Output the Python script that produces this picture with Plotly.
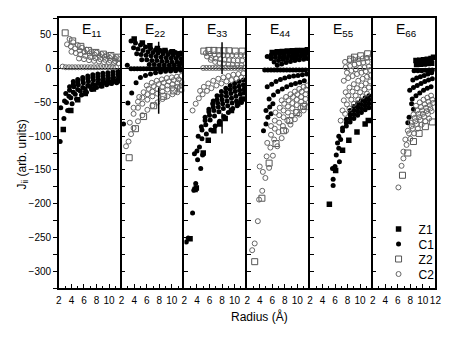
import plotly.graph_objects as go

# ---------------- data ----------------
panel_titles = ["E<sub>11</sub>", "E<sub>22</sub>", "E<sub>33</sub>",
                "E<sub>44</sub>", "E<sub>55</sub>", "E<sub>66</sub>"]
series_names = ["Z1", "C1", "Z2", "C2"]
x_ticks = [2, 4, 6, 8, 10]
x_ticks_last = [2, 4, 6, 8, 10, 12]
y_ticks = [50, 0, -50, -100, -150, -200, -250, -300]
x_title = "Radius (Å)"
y_title = "J<sub>ii</sub> (arb. units)"

# E11
e11_z1_x = [2.7, 3.9, 5.0, 6.2, 7.5, 8.8, 10.2, 11.5]
e11_z1_y = [-90, -62, -46, -37, -30, -25, -21, -18]
e11_c1_x = [2.2, 2.8, 3.4, 4.1, 4.8, 5.6, 6.4, 7.2, 8.0, 8.8, 9.6, 10.4, 11.2,
            3.2, 3.9, 4.6, 5.4, 6.2, 7.0, 7.8, 8.6, 9.4, 10.2, 11.0, 11.7,
            2.3, 2.9, 3.6, 4.3, 5.0, 5.8, 6.6, 7.4, 8.2, 9.0, 9.8, 10.6, 11.4,
            3.1, 3.7, 4.4, 5.1, 5.9, 6.7, 7.5, 8.3, 9.1, 9.9, 10.7, 11.5,
            3.7, 4.3, 5.0, 5.8, 6.6, 7.4, 8.2, 9.0, 9.8, 10.6, 11.4,
            4.3, 5.0, 5.8, 6.6, 7.4, 8.2, 9.0, 9.8, 10.6, 11.4]
e11_c1_y = [-108, -74, -62, -52, -45, -39, -35, -31, -28, -26, -24, -22, -21,
            -50, -43, -38, -33, -30, -27, -25, -23, -21, -20, -19, -18,
            -58, -48, -41, -35, -31, -28, -25, -23, -21, -19, -18, -17, -16,
            -37, -32, -27, -24, -21, -19, -17, -16, -15, -14, -13, -12,
            -27, -23, -20, -17, -15, -13, -12, -11, -10, -9, -8,
            -19, -16, -13, -11, -9, -8, -7, -6, -5, -4]
e11_z2_x = [3.0, 4.2, 5.5, 6.7, 7.9, 9.1, 10.3, 11.4]
e11_z2_y = [53, 41, 33, 27, 24, 21.5, 19.5, 17]
e11_c2_x = [3.7, 4.3, 5.0, 5.7, 6.4, 7.2, 8.0, 8.8, 9.6, 10.4, 11.2,
            3.3, 3.9, 4.6, 5.3, 6.1, 6.9, 7.7, 8.5, 9.3, 10.1, 10.9, 11.6,
            4.0, 4.7, 5.4, 6.2, 7.0, 7.8, 8.6, 9.4, 10.2, 11.0,
            5.2, 6.0, 6.8, 7.6, 8.4, 9.2, 10.0, 10.8, 11.5,
            2.6, 3.1, 3.6, 4.1, 4.6, 5.1, 5.6, 6.1, 6.6, 7.1, 7.6, 8.1, 8.6, 9.1, 9.6, 10.1, 10.6, 11.1]
e11_c2_y = [44, 39, 35, 31, 28, 25.5, 23.5, 21.5, 20, 18.5, 17,
            36, 33, 30, 27, 24.5, 22.5, 20.5, 19, 17.5, 16, 15, 14,
            25, 23, 21, 19, 17, 15.5, 14, 13, 12, 11,
            15, 14, 12.5, 11.5, 10.5, 9.5, 9, 8.5, 8,
            3, 2, 2, 2, 2, 2, 2, 2, 2, 2, 2, 2, 2, 2, 2, 2, 2, 2]

# E22
e22_z1_x = [4.0, 5.3, 6.5, 7.7, 8.9, 10.1, 11.3]
e22_z1_y = [44, 38, 34, 30, 27, 25, 22]
e22_c1_x = [3.5, 4.2, 5.0, 5.8, 6.6, 7.4, 8.2, 9.0, 9.8, 10.6, 11.4,
            3.9, 4.6, 5.4, 6.2, 7.0, 7.8, 8.6, 9.4, 10.2, 11.0,
            4.4, 5.1, 5.9, 6.7, 7.5, 8.3, 9.1, 9.9, 10.7, 11.5,
            5.2, 6.0, 6.8, 7.6, 8.4, 9.2, 10.0, 10.8, 11.5,
            6.4, 7.2, 8.0, 8.8, 9.6, 10.4, 11.2,
            2.9, 3.5, 4.0, 4.5, 5.0, 5.5, 6.0, 6.5, 7.0, 7.5, 8.0, 8.5, 9.0, 9.5, 10.0, 10.5, 11.0, 11.5,
            2.3, 3.0, 3.6, 4.3, 5.0, 5.8, 6.6, 7.4, 8.2, 9.0, 9.8, 10.6, 11.4]
e22_c1_y = [41, 38, 35, 32, 30, 28, 27, 26, 25, 24, 23,
            31, 29, 27, 25, 24, 23, 22, 21, 20, 19.5,
            22, 21, 20, 19, 18, 17, 16, 15.5, 15, 14.5,
            13, 13, 12, 12, 11, 11, 10, 10, 9,
            6, 6, 5.5, 5.5, 5, 5, 5,
            5, 0, 0, 0, 0, 0, 0, 0, 0, 0, 0, 0, 0, 0, 0, 0, 0, 0,
            -82, -51, -36, -21, -13, -10, -8, -6, -5, -4, -3.5, -3, -2.5]
e22_z2_x = [3.2, 4.2, 5.5, 7.1, 8.7, 10.3, 11.4]
e22_z2_y = [-132, -89, -71, -55, -41, -33, -30]
e22_c2_x = [2.7, 3.1, 3.5, 3.9, 4.6, 5.3, 6.1, 6.9, 7.7, 8.5, 9.3, 10.1, 10.9, 11.6,
            3.3, 3.9, 4.6, 5.3, 6.1, 6.9, 7.7, 8.5, 9.3, 10.1, 10.9, 11.6,
            3.9, 4.6, 5.3, 6.1, 6.9, 7.7, 8.5, 9.3, 10.1, 10.9, 11.6,
            4.8, 5.5, 6.3, 7.1, 7.9, 8.7, 9.5, 10.3, 11.1,
            6.0, 6.8, 7.6, 8.4, 9.2, 10.0, 10.8, 11.5]
e22_c2_y = [-115, -108, -97, -88, -78, -69, -61, -55, -50, -45, -41, -38, -35, -32,
            -80, -67, -58, -52, -46, -41, -37, -34, -31, -29, -27, -25,
            -58, -49, -43, -38, -34, -30, -27, -25, -23, -21, -20,
            -42, -35, -30, -26, -23, -21, -19, -17, -16,
            -25, -21, -18, -16, -14, -13, -12, -11]
e22_bar1_x = [7.9, 7.9]
e22_bar1_y = [40, 29]
e22_bar2_x = [7.9, 7.9]
e22_bar2_y = [-28, -67]

# E33
e33_z1_x = [2.9, 3.7, 3.9, 5.0, 5.8, 6.7, 7.6, 8.5, 9.5, 10.5, 11.4]
e33_z1_y = [-252, -179, -177, -125, -106, -92, -82, -74, -62, -52, -45]
e33_c1_x = [6.6, 7.2, 7.9, 8.6, 9.3, 10.0, 10.7, 11.4,
            5.9, 6.5, 7.2, 7.9, 8.6, 9.3, 10.0, 10.7, 11.4,
            5.3, 5.9, 6.6, 7.3, 8.0, 8.7, 9.4, 10.1, 10.8, 11.5,
            4.7, 5.3, 6.0, 6.7, 7.4, 8.1, 8.8, 9.5, 10.2, 10.9, 11.5,
            4.2, 4.8, 5.4, 6.1, 6.8, 7.5, 8.2, 8.9, 9.6, 10.3, 11.0,
            4.8, 5.5, 6.2, 6.9, 7.6, 8.3, 9.0, 9.7, 10.4, 11.1,
            3.6, 4.1, 4.9, 4.6, 3.8, 3.5, 3.3, 2.3, 2.6, 4.0, 4.4]
e33_c1_y = [-48, -40, -34, -29, -25, -22, -19, -17,
            -60, -52, -46, -40, -35, -31, -28, -26, -24,
            -72, -64, -57, -51, -46, -41, -37, -34, -32, -30,
            -86, -77, -69, -62, -57, -52, -48, -44, -41, -38, -36,
            -100, -91, -83, -76, -70, -64, -59, -55, -51, -48, -45,
            -104, -97, -91, -85, -78, -71, -65, -59, -55, -50,
            -126, -135, -128, -148, -170, -180, -214, -257, -251, -122, -116]
e33_z2_x = [5.1, 5.9, 6.7, 7.5, 8.3, 9.1, 10.1, 11.2]
e33_z2_y = [26, 27, 27, 26.5, 26.5, 26.5, 26, 26]
e33_c2_x = [5.4, 6.1, 6.8, 7.5, 8.2, 8.9, 9.6, 10.3, 11.0, 11.6,
            5.6, 6.3, 7.0, 7.7, 8.4, 9.1, 9.8, 10.5, 11.2,
            6.2, 6.9, 7.6, 8.3, 9.0, 9.7, 10.4, 11.1,
            5.0, 5.5, 6.0, 6.5, 7.0, 7.5, 8.0, 8.5, 9.0, 9.5, 10.0, 10.5, 11.0, 11.5,
            3.3, 3.8, 4.3, 4.9, 5.6, 6.3, 7.1, 7.9, 8.7, 9.5, 10.3, 11.1,
            4.5, 5.1, 5.8, 6.6, 7.4, 8.2, 9.0, 9.8, 10.6, 11.4]
e33_c2_y = [23, 22, 21, 20.5, 20, 20, 20, 20, 20, 20,
            18, 16, 15, 14, 13, 12.5, 12, 12, 12,
            13, 10, 8.5, 7.5, 6.5, 6, 5.5, 5,
            1, 1, 1, 1, 1, 1, 1, 1, 1, 1, 1, 1, 1, 1,
            -62, -52, -44, -38, -33, -29, -25, -22, -19, -17, -15, -13,
            -33, -27, -22, -18, -15, -13, -11, -9, -8, -7]
e33_bar1_x = [8.0, 8.0]
e33_bar1_y = [39, -8]
e33_bar2_x = [8.0, 8.0]
e33_bar2_y = [-66, -96]

# E44
e44_z1_x = [6.0, 6.8, 7.6, 8.4, 9.2, 10.0, 10.8, 11.6]
e44_z1_y = [24, 25, 25.5, 26, 26.5, 27, 27, 28]
e44_c1_x = [5.2, 5.8, 6.5, 7.2, 7.9, 8.6, 9.3, 10.0, 10.7, 11.4,
            5.8, 6.5, 7.2, 7.9, 8.6, 9.3, 10.0, 10.7, 11.4,
            6.3, 7.0, 7.7, 8.4, 9.1, 9.8, 10.5, 11.2,
            6.8, 7.5, 8.2, 8.9, 9.6, 10.3, 11.0, 11.6,
            4.8, 5.3, 5.8, 6.3, 6.8, 7.3, 7.8, 8.3, 8.8, 9.3, 9.8, 10.3, 10.8, 11.3,
            5.2, 5.9, 6.6, 7.3, 8.0, 8.7, 9.4, 10.1, 10.8, 11.5,
            5.5, 6.2, 6.9, 7.6, 8.3, 9.0, 9.7, 10.4, 11.1,
            5.0, 5.3, 5.8, 5.0, 4.6, 6.1, 5.6]
e44_c1_y = [18, 20, 21, 22, 22.5, 23, 23.5, 24, 24.5, 25,
            15, 16.5, 17.5, 18.5, 19.5, 20, 21, 21.5, 22,
            10, 12, 13.5, 15, 16, 17, 18, 19,
            5, 7, 9, 10.5, 12, 13, 14, 15,
            -2, -2, -2, -2, -2, -2, -2, -2, -2, -2, -2, -2, -2, -2,
            -27, -23, -19, -16, -14, -12, -11, -10, -9, -8,
            -45, -39, -34, -30, -27, -24, -22, -20, -18,
            -62, -72, -67, -82, -92, -52, -57]
e44_z2_x = [3.2, 4.35, 5.5, 6.6, 7.8, 8.8, 9.9, 11.0]
e44_z2_y = [-286, -192, -140, -111, -92, -77, -65, -56]
e44_c2_x = [2.8, 3.2, 3.7, 3.9, 4.4, 4.9, 5.5, 6.1, 6.8, 7.5, 8.2, 8.9, 9.6, 10.3, 11.0, 11.6,
            4.0, 4.5, 5.1, 5.7, 6.3, 7.0, 7.7, 8.4, 9.1, 9.8, 10.5, 11.2,
            5.2, 5.8, 6.4, 7.1, 7.8, 8.5, 9.2, 9.9, 10.6, 11.3,
            5.8, 6.4, 7.1, 7.8, 8.5, 9.2, 9.9, 10.6, 11.3,
            6.5, 7.2, 7.9, 8.6, 9.3, 10.0, 10.7, 11.4,
            7.5, 8.2, 8.9, 9.6, 10.3, 11.0, 11.6]
e44_c2_y = [-269, -259, -226, -194, -181, -162, -147, -129, -115, -103, -92, -83, -75, -68, -62, -57,
            -145, -153, -130, -117, -105, -94, -85, -77, -70, -64, -58, -53,
            -110, -98, -89, -80, -72, -65, -59, -54, -49, -45,
            -85, -77, -69, -62, -56, -51, -46, -42, -38,
            -65, -58, -52, -47, -42, -38, -34, -31,
            -47, -42, -38, -34, -30, -27, -25]

# E55
e55_z1_x = [5.1, 6.1, 7.2, 8.2, 9.5, 10.8, 11.3]
e55_z1_y = [-201, -151, -121, -106, -94, -82, -77]
e55_c1_x = [8.4, 9.0, 9.6, 10.2, 10.8, 11.4,
            7.8, 8.4, 9.0, 9.6, 10.2, 10.8, 11.4,
            7.2, 7.8, 8.4, 9.0, 9.6, 10.2, 10.8, 11.4,
            6.6, 7.2, 7.8, 8.4, 9.0, 9.6, 10.2, 10.8, 11.4,
            6.6, 6.2, 6.7, 6.0, 5.7, 5.7, 5.6, 6.4, 6.9]
e55_c1_y = [-62, -56, -51, -47, -43, -40,
            -75, -68, -62, -57, -53, -49, -46,
            -88, -80, -73, -68, -63, -59, -55, -52,
            -100, -92, -85, -79, -74, -69, -65, -61, -58,
            -118, -128, -138, -145, -164, -173, -148, -110, -105]
e55_z2_x = [8.5, 9.1, 10.1, 11.2]
e55_z2_y = [14, 17, 19, 22]
e55_c2_x = [7.6, 8.3, 9.0, 9.7, 10.4, 11.1, 11.7,
            7.7, 8.4, 9.1, 9.8, 10.5, 11.2,
            7.9, 8.6, 9.3, 10.0, 10.7, 11.4,
            7.4, 8.1, 8.8, 9.5, 10.2, 10.9, 11.6,
            7.7, 8.3, 9.0, 9.7, 10.4, 11.1, 11.7,
            7.4, 8.1, 8.8, 9.5, 10.2, 10.9, 11.6,
            7.2, 7.9, 8.6, 9.3, 10.0, 10.7, 11.4,
            6.9, 7.6, 8.3, 9.0, 9.7, 10.4, 11.1]
e55_c2_y = [10, 12, 13, 14, 15, 16, 17,
            2, 4, 6, 8, 9, 10,
            -6, -3, -1, 1, 2, 3,
            -18, -14, -11, -8, -6, -4, -2,
            -35, -28, -23, -18, -15, -12, -10,
            -47, -40, -34, -29, -25, -22, -19,
            -62, -53, -46, -40, -35, -31, -28,
            -77, -67, -59, -52, -46, -41, -37]

# E66
e66_z1_x = [8.9, 9.5, 10.1, 10.7, 11.3, 11.7, 9.0, 9.6, 10.2, 10.8, 11.4]
e66_z1_y = [12, 12.5, 13, 14, 15, 17, 6, 6.5, 7, 7.5, 8]
e66_c1_x = [8.6, 9.2, 9.8, 10.4, 11.0, 11.5,
            8.4, 9.0, 9.6, 10.2, 10.8, 11.4,
            7.9, 8.5, 9.1, 9.7, 10.3, 10.9, 11.5,
            8.3, 8.9, 9.5, 10.1, 10.7, 11.3,
            8.5, 8.2, 7.8, 7.6]
e66_c1_y = [-3, -3, -3, -2.5, -2, -2,
            -17, -14, -12, -10, -8, -6,
            -32, -28, -25, -22, -19, -17, -15,
            -45, -40, -36, -32, -29, -27,
            -60, -52, -72, -80]
e66_z2_x = [6.75, 7.6, 8.5, 9.4, 10.4, 11.5]
e66_z2_y = [-158, -125, -108, -96, -86, -79]
e66_c2_x = [8.9, 9.5, 10.1, 10.7, 11.3,
            8.5, 9.1, 9.7, 10.3, 10.9, 11.5,
            8.1, 8.7, 9.3, 9.9, 10.5, 11.1, 11.6,
            7.6, 8.2, 8.8, 9.4, 10.0, 10.6, 11.2,
            7.2, 7.8, 8.4, 9.0, 9.6, 10.2, 10.8, 11.4,
            6.9, 7.4, 8.0, 8.6, 9.2, 9.8, 10.4, 11.0,
            6.6, 6.9, 6.1]
e66_c2_y = [-55, -50, -46, -43, -40,
            -68, -62, -57, -53, -49, -46,
            -80, -73, -67, -62, -58, -54, -51,
            -92, -85, -78, -72, -67, -63, -59,
            -105, -96, -89, -82, -76, -71, -67, -63,
            -123, -113, -104, -96, -89, -83, -78, -74,
            -144, -133, -176]

# ---------------- assemble ----------------
panels = [
    [(e11_z1_x, e11_z1_y), (e11_c1_x, e11_c1_y), (e11_z2_x, e11_z2_y), (e11_c2_x, e11_c2_y)],
    [(e22_z1_x, e22_z1_y), (e22_c1_x, e22_c1_y), (e22_z2_x, e22_z2_y), (e22_c2_x, e22_c2_y)],
    [(e33_z1_x, e33_z1_y), (e33_c1_x, e33_c1_y), (e33_z2_x, e33_z2_y), (e33_c2_x, e33_c2_y)],
    [(e44_z1_x, e44_z1_y), (e44_c1_x, e44_c1_y), (e44_z2_x, e44_z2_y), (e44_c2_x, e44_c2_y)],
    [(e55_z1_x, e55_z1_y), (e55_c1_x, e55_c1_y), (e55_z2_x, e55_z2_y), (e55_c2_x, e55_c2_y)],
    [(e66_z1_x, e66_z1_y), (e66_c1_x, e66_c1_y), (e66_z2_x, e66_z2_y), (e66_c2_x, e66_c2_y)],
]
bars = {1: [(e22_bar1_x, e22_bar1_y), (e22_bar2_x, e22_bar2_y)],
        2: [(e33_bar1_x, e33_bar1_y), (e33_bar2_x, e33_bar2_y)]}

W, H = 463, 338
edges = [57, 121, 185, 249, 313, 377, 441]
top_px, bot_px = 18, 288
FONT = "Liberation Sans, Arial, sans-serif"

styles = [
    dict(symbol="square", size=5.5, color="black", line=dict(width=0)),
    dict(symbol="circle", size=5, color="black", line=dict(width=0)),
    dict(symbol="square-open", size=6, color="#555555", line=dict(width=1, color="#555555")),
    dict(symbol="circle-open", size=5, color="#666666", line=dict(width=1, color="#666666")),
]
legend_ids = ["legend", "legend2", "legend3", "legend4"]
legend_rows_px = [229, 244, 259, 274]

fig = go.Figure()
for i, panel in enumerate(panels):
    xa = "x" if i == 0 else f"x{i+1}"
    ya = "y" if i == 0 else f"y{i+1}"
    for k, (xs, ys) in enumerate(panel):
        fig.add_trace(go.Scatter(
            x=xs, y=ys, mode="markers", name=series_names[k],
            marker=styles[k], xaxis=xa, yaxis=ya,
            showlegend=(i == 0), legend=legend_ids[k],
            legendgroup=series_names[k]))
    for bx, by in bars.get(i, []):
        fig.add_trace(go.Scatter(x=bx, y=by, mode="lines", showlegend=False,
                                 line=dict(color="black", width=1.5),
                                 xaxis=xa, yaxis=ya))

layout = dict(
    width=W, height=H,
    margin=dict(l=0, r=0, t=0, b=0),
    paper_bgcolor="white", plot_bgcolor="white",
    font=dict(family=FONT, size=10, color="black"),
)
ydom = [1 - bot_px / H, 1 - top_px / H]
for i in range(6):
    xkey = "xaxis" if i == 0 else f"xaxis{i+1}"
    ykey = "yaxis" if i == 0 else f"yaxis{i+1}"
    tdir = "outside" if i == 0 else "inside"
    layout[xkey] = dict(
        domain=[edges[i] / W, edges[i + 1] / W], range=[2, 12],
        anchor="y" if i == 0 else f"y{i+1}",
        tickmode="array", tickvals=x_ticks_last if i == 5 else x_ticks,
        ticks="inside", ticklen=4, tickwidth=1, tickcolor="black", tickangle=0,
        minor=dict(dtick=1, tick0=2, ticks="inside", ticklen=2, tickwidth=1, tickcolor="black"),
        showline=True, linecolor="black", linewidth=1.5, mirror=True,
        showgrid=False, zeroline=False, tickfont=dict(size=10),
        ticklabelstandoff=2, fixedrange=True)
    layout[ykey] = dict(
        domain=ydom, range=[-325, 75],
        anchor="x" if i == 0 else f"x{i+1}",
        tickmode="array", tickvals=y_ticks, showticklabels=(i == 0),
        ticks=tdir, ticklen=4, tickwidth=1, tickcolor="black",
        minor=dict(dtick=25, tick0=0, ticks=tdir, ticklen=4, tickwidth=1, tickcolor="black"),
        showline=True, linecolor="black", linewidth=1.5, mirror=(i == 5),
        showgrid=False, zeroline=True, zerolinecolor="black", zerolinewidth=1,
        tickfont=dict(size=10), fixedrange=True)

for k, lid in enumerate(legend_ids):
    layout[lid] = dict(x=383 / W, xanchor="left", y=1 - legend_rows_px[k] / H, yanchor="middle",
                       bgcolor="rgba(0,0,0,0)", font=dict(size=12), borderwidth=0)

annotations = []
for i, t in enumerate(panel_titles):
    annotations.append(dict(text=t, x=((edges[i] + edges[i + 1]) / 2 + 2) / W, y=1 - 30 / H,
                            xref="paper", yref="paper", showarrow=False,
                            font=dict(size=14), xanchor="center", yanchor="middle"))
annotations.append(dict(text=x_title, x=262 / W, y=1 - 316 / H, xref="paper", yref="paper",
                        showarrow=False, font=dict(size=12), xanchor="center", yanchor="middle"))
annotations.append(dict(text=y_title, x=20 / W, y=1 - 155 / H, xref="paper", yref="paper",
                        showarrow=False, font=dict(size=12), textangle=-90,
                        xanchor="center", yanchor="middle"))
layout["annotations"] = annotations

fig.update_layout(**layout)
fig.write_html("out.html")
